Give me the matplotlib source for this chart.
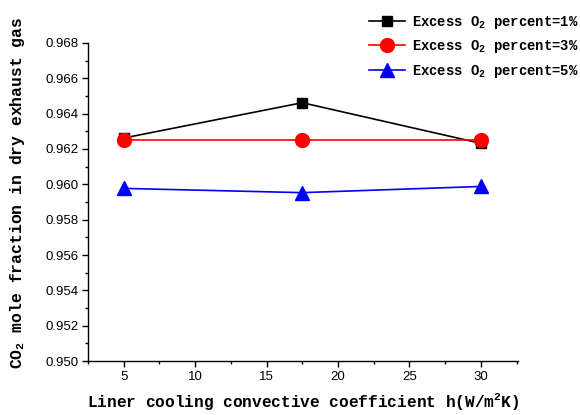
import matplotlib
matplotlib.use("Agg")
import matplotlib.pyplot as plt
from matplotlib.ticker import MultipleLocator, FormatStrFormatter

# Liner cooling convective coefficient h (W/m^2K)
h_values = [5, 17.5, 30]

# CO2 mole fraction in dry exhaust gas for each excess O2 level
co2_o2_1 = [0.96262, 0.96462, 0.96232]
co2_o2_3 = [0.96252, 0.96252, 0.96252]
co2_o2_5 = [0.95977, 0.95953, 0.95988]

series_labels = [r"Excess O$\mathregular{_2}$ percent=1%",
                 r"Excess O$\mathregular{_2}$ percent=3%",
                 r"Excess O$\mathregular{_2}$ percent=5%"]

label_font = dict(family="Liberation Mono", weight="bold")

fig = plt.figure(figsize=(5.8, 4.15), dpi=100)
ax = fig.add_axes([0.1517, 0.1301, 0.7413, 0.7663])

ax.plot(h_values, co2_o2_1, color="black", marker="s", markersize=7.5,
        linewidth=1.2, label=series_labels[0])
ax.plot(h_values, co2_o2_3, color="red", marker="o", markersize=10,
        linewidth=1.2, label=series_labels[1])
ax.plot(h_values, co2_o2_5, color="blue", marker="^", markersize=10,
        linewidth=1.2, label=series_labels[2])

ax.set_xlim(2.5, 32.6)
ax.set_ylim(0.950, 0.968)
ax.xaxis.set_major_locator(MultipleLocator(5))
ax.xaxis.set_minor_locator(MultipleLocator(2.5))
ax.yaxis.set_major_locator(MultipleLocator(0.002))
ax.yaxis.set_minor_locator(MultipleLocator(0.001))
ax.yaxis.set_major_formatter(FormatStrFormatter("%.3f"))

for side in ("top", "right"):
    ax.spines[side].set_visible(False)
for side in ("left", "bottom"):
    ax.spines[side].set_linewidth(1.0)

ax.tick_params(which="major", direction="out", length=4, width=1,
               labelsize=9.5, pad=3)
ax.tick_params(which="minor", direction="out", length=2.5, width=1)
for lbl in ax.get_xticklabels() + ax.get_yticklabels():
    lbl.set_family("Liberation Sans")

ax.set_xlabel(r"Liner cooling convective coefficient h(W/m$\mathregular{^2}$K)",
              fontsize=11.6, labelpad=6, **label_font)
ax.set_ylabel(r"CO$\mathregular{_2}$ mole fraction in dry exhaust gas",
              fontsize=11.8, **label_font)
ax.yaxis.set_label_coords(-0.142, 0.53)

leg = ax.legend(loc="upper right", bbox_to_anchor=(1.154, 1.11), frameon=False,
                prop=dict(family="Liberation Mono", weight="bold", size=10),
                handlelength=2.6, handletextpad=0.5, labelspacing=0.55,
                borderaxespad=0)

fig.savefig("out.png", dpi=100)
